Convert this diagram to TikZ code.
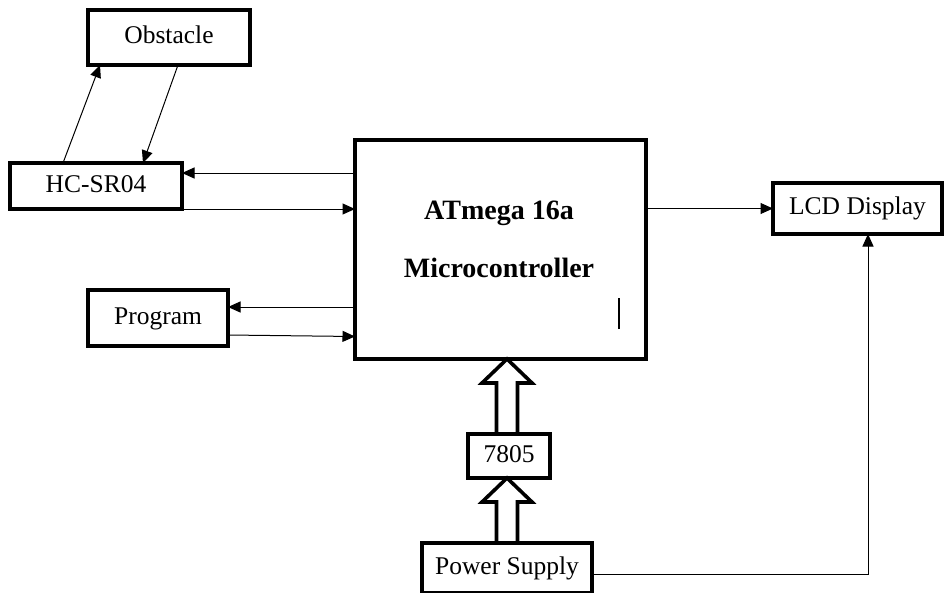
\documentclass[tikz,border=0pt]{standalone}
\usepackage{fontspec}
\setmainfont{Liberation Serif}
\usetikzlibrary{arrows.meta,calc}
\begin{document}
\begin{tikzpicture}[x=1pt,y=-1pt,
  box/.style={draw,line width=4pt,inner sep=0pt,outer sep=0pt,
    font=\fontsize{25.5}{30}\selectfont,text height=17pt,text depth=5pt},
  arr/.style={line width=1pt,-{Triangle[length=12.5pt,width=11pt]}},
  hollow/.style={line width=3.6pt,line join=miter},
  lbl/.style={font=\fontsize{28}{32}\selectfont\bfseries,inner sep=0pt}]
\useasboundingbox (0,0) rectangle (945,592);
\node[box,minimum width=162pt,minimum height=55pt] (obs) at (169,37.5) {Obstacle};
\node[box,minimum width=172pt,minimum height=46pt] (hc) at (96,186) {HC-SR04};
\node[box,minimum width=291pt,minimum height=219pt] (mc) at (500.5,249.5) {};
\node[lbl] (t1) at (499,213) {ATmega 16a};
\node[lbl] (t2) at (499,268) {Microcontroller};
\node[box,minimum width=140pt,minimum height=56pt] (prog) at (158,318) {Program};
\node[box,minimum width=169pt,minimum height=51pt] (lcd) at (857.5,208.5) {LCD Display};
\node[box,minimum width=82pt,minimum height=44pt] (reg) at (509,456) {7805};
\node[box,minimum width=170pt,minimum height=50pt] (ps) at (507,568) {Power Supply};
% obstacle arrows
\draw[arr] ([xshift=53pt]hc.north west) -- ([xshift=12pt]obs.south west);
\draw[arr] ([xshift=90pt]obs.south west) -- ([xshift=133pt]hc.north west);
% HC-SR04 <-> MC
\coordinate (h1) at ([yshift=13pt]hc.east);
\coordinate (h2) at ([yshift=-23pt]hc.east);
\draw[arr] (mc.west |- h1) -- (h1);
\draw[arr] (h2) -- (mc.west |- h2);
% Program <-> MC
\coordinate (p1) at ([yshift=11pt]prog.east);
\coordinate (p2) at ([yshift=-17pt]prog.east);
\draw[arr] (mc.west |- p1) -- (p1);
\draw[arr] (p2) -- ([yshift=-1.5pt]mc.west |- p2);
% MC -> LCD
\draw[arr] (mc.east |- lcd.west) -- (lcd.west);
% Power supply -> LCD
\draw[arr] ([yshift=-6pt]ps.east) -| ([xshift=10.5pt]lcd.south);
% small mark inside MC
\draw[line width=1.1pt] ([shift={(-27pt,30pt)}]mc.south east) -- ++(0,-31);
% hollow arrows
\coordinate (tipA) at (ps.north |- mc.south);
\coordinate (baseA) at (ps.north |- reg.north);
\draw[hollow] ($(baseA)+(-10.5,0)$) -- ($(tipA)+(-10.5,24)$) -- ($(tipA)+(-25,24)$) -- (tipA)
  -- ($(tipA)+(25,24)$) -- ($(tipA)+(10.5,24)$) -- ($(baseA)+(10.5,0)$);
\coordinate (tipB) at (ps.north |- reg.south);
\coordinate (baseB) at (ps.north);
\draw[hollow] ($(baseB)+(-10.5,0)$) -- ($(tipB)+(-10.5,24)$) -- ($(tipB)+(-25,24)$) -- (tipB)
  -- ($(tipB)+(25,24)$) -- ($(tipB)+(10.5,24)$) -- ($(baseB)+(10.5,0)$);
\end{tikzpicture}
\end{document}
